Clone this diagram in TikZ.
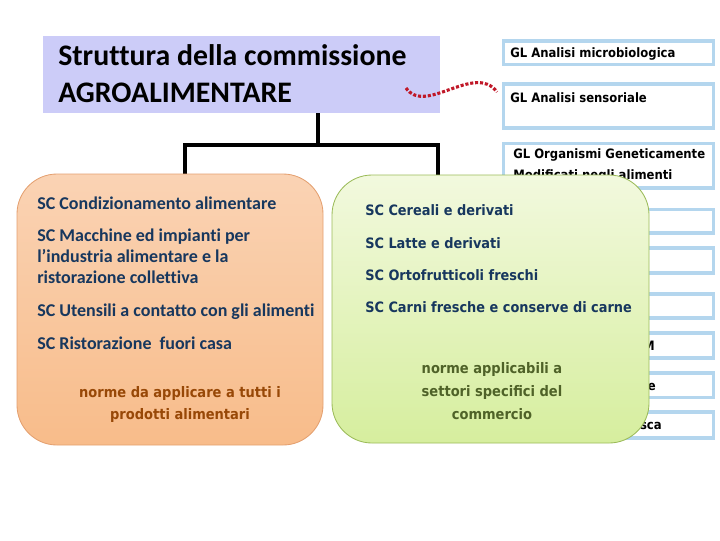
\documentclass[tikz,border=0pt]{standalone}
\usepackage{fontspec}
\setmainfont{Carlito}[Ligatures=NoCommon]
\newfontfamily\verdana{DejaVu Sans Condensed}
\usepackage{tikz}

\definecolor{titolofill}{RGB}{204,204,248}
\definecolor{scblu}{RGB}{23,55,94}
\definecolor{marrone}{RGB}{152,72,7}
\definecolor{oliva}{RGB}{79,98,40}
\definecolor{glbordo}{RGB}{180,214,238}
\definecolor{aranciosu}{RGB}{250,211,180}
\definecolor{aranciogiu}{RGB}{248,188,138}
\definecolor{aranciobordo}{RGB}{228,160,112}
\definecolor{verdesu}{RGB}{242,249,222}
\definecolor{verdegiu}{RGB}{214,238,158}
\definecolor{verdebordo}{RGB}{155,187,89}
\definecolor{rossoonda}{RGB}{192,24,40}

\newdimen\px \px=0.025cm

\begin{document}
\begin{tikzpicture}[x=0.025cm, y=-0.025cm,
  titolo/.style = {fill = titolofill, minimum width = 397\px, minimum height = 77\px, inner sep = 0},
  titxt/.style = {anchor = base west, inner sep = 0, font = \bfseries\fontsize{21.2}{26}\selectfont},
  albero/.style = {line width = 2.8pt},
  onda/.style = {rossoonda, line width = 2.2pt, dash pattern = on 2.2pt off 1.3pt},
  glbox/.style = {draw = glbordo, line width = 2.5pt, fill = white, minimum width = 210\px, inner sep = 0},
  gltxt/.style = {anchor = base west, inner sep = 0, font = \verdana\bfseries\fontsize{9.2}{11}\selectfont},
  riquadro/.style = {rounded corners = 40\px, inner sep = 0, line width = 0.6pt},
  arancio/.style = {riquadro, draw = aranciobordo, top color = aranciosu, bottom color = aranciogiu,
                    minimum width = 306\px, minimum height = 271\px},
  verde/.style = {riquadro, draw = verdebordo, top color = verdesu, bottom color = verdegiu,
                  minimum width = 317\px, minimum height = 268\px},
  sctxt/.style = {anchor = base west, inner sep = 0, text = scblu, font = \bfseries\fontsize{12.8}{14}\selectfont},
  scverde/.style = {anchor = base west, inner sep = 0, text = scblu, font = \verdana\bfseries\fontsize{10.2}{12}\selectfont},
  nota/.style = {anchor = base, inner sep = 0, font = \verdana\bfseries\fontsize{10.3}{12}\selectfont}]
  \useasboundingbox (0,0) rectangle (720,540);

  \node [titolo] (titolo) at (241.5,74.5) {};
  \node [titxt] (titolo1) at (58,65) {Struttura della commissione};
  \node [titxt] (titolo2) at (58,102) {AGROALIMENTARE};

  \foreach \n/\y/\h in {1/52.75/23.5, 2/106/44, 3/165.75/44.5, 4/221.25/23.5, 5/260.5/25,
                        6/306/24, 7/345.5/25, 8/385.25/24.5, 9/425/26}
    \node [glbox, minimum height = \h\px] (gl\n) at (608.5,\y) {};
  \node [gltxt] (gltesto1) at (510,57) {GL Analisi microbiologica};
  \node [gltxt] (gltesto2) at (510,102) {GL Analisi sensoriale};
  \node [gltxt] (gltesto3) at (513,158) {GL Organismi Geneticamente};
  \node [gltxt] (gltesto3b) at (513,179) {Modificati negli alimenti};
  \node [gltxt, anchor = base east] (gltesto7) at (655,350) {M};
  \node [gltxt, anchor = base east] (gltesto8) at (656,390) {e};
  \node [gltxt, anchor = base east] (gltesto9) at (662,429) {sca};

  \coordinate (ondaA) at (406,88);
  \coordinate (ondaB) at (497,92);
  \draw [onda] (ondaA) .. controls (425,116) and (475,62) .. (ondaB);

  \coordinate (radice) at (318,113);
  \coordinate (ramo) at (318,145);
  \coordinate (gamba1) at (185,176);
  \coordinate (gamba2) at (438,177);
  \draw [albero] (radice) -- (ramo) -| (gamba1);
  \draw [albero] (ramo) -| (gamba2);

  \node [arancio] (generali) at (170,309.5) {};
  \foreach \y/\t [count = \i] in {209/SC Condizionamento alimentare, 241/SC Macchine ed impianti per,
                                  262/l’industria alimentare e la, 283/ristorazione collettiva,
                                  316/SC Utensili a contatto con gli alimenti, 349/SC Ristorazione\ \ fuori casa}
    \node [sctxt] (scg\i) at (37,\y) {\t};
  \node [nota, text = marrone] (notag1) at (180,397) {norme da applicare a tutti i};
  \node [nota, text = marrone] (notag2) at (180,419) {prodotti alimentari};

  \node [verde] (settori) at (490.5,309) {};
  \foreach \y/\t [count = \i] in {215/SC Cereali e derivati, 248/SC Latte e derivati,
                                  280/SC Ortofrutticoli freschi, 312/SC Carni fresche e conserve di carne}
    \node [scverde] (scs\i) at (365,\y) {\t};
  \node [nota, text = oliva] (notas1) at (492,373) {norme applicabili a};
  \node [nota, text = oliva] (notas2) at (492,396) {settori specifici del};
  \node [nota, text = oliva] (notas3) at (492,419) {commercio};
\end{tikzpicture}
\end{document}
